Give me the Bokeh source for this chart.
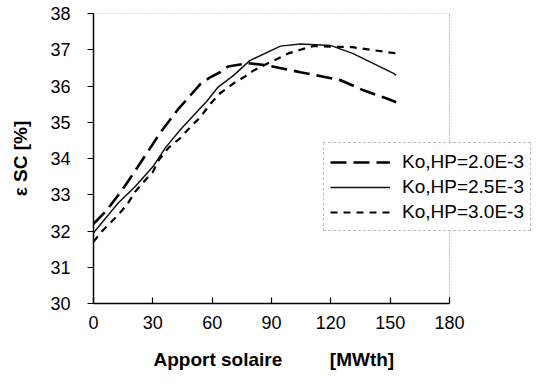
from bokeh.plotting import figure
from bokeh.models import FixedTicker, Legend, LegendItem, Title
from bokeh.embed import file_html
from bokeh.resources import INLINE

# Series: Ko,HP = 2.0E-3 (long dash)
x_20 = [0, 6, 12, 17, 23, 27, 34, 42.5, 54, 59, 64, 68, 78, 88, 104.6, 115, 125, 136.5, 149, 153]
y_20 = [32.2, 32.53, 32.95, 33.33, 33.82, 34.15, 34.73, 35.34, 36.05, 36.24, 36.38, 36.54,
        36.63, 36.57, 36.38, 36.27, 36.16, 35.88, 35.64, 35.55]

# Series: Ko,HP = 2.5E-3 (solid)
x_25 = [0, 12.6, 21, 30, 36.4, 44, 57.6, 63, 71, 79, 94.5, 104.6, 119.8, 131, 151.7, 153]
y_25 = [31.95, 32.78, 33.22, 33.77, 34.3, 34.8, 35.6, 35.97, 36.3, 36.7, 37.1, 37.16,
        37.12, 36.9, 36.35, 36.3]

# Series: Ko,HP = 3.0E-3 (short dash)
x_30 = [0, 3.5, 8.6, 12.6, 17, 21, 25, 30, 33, 38, 44, 49, 54, 59, 64, 71, 76, 81, 91,
        98.6, 104.6, 111, 131, 153]
y_30 = [31.7, 31.95, 32.23, 32.45, 32.73, 33.08, 33.33, 33.63, 33.96, 34.3, 34.57, 34.87,
        35.14, 35.5, 35.8, 36.08, 36.24, 36.43, 36.7, 36.9, 37.0, 37.1, 37.07, 36.9]

labels = ["Ko,HP=2.0E-3", "Ko,HP=2.5E-3", "Ko,HP=3.0E-3"]
x_ticks = [0, 30, 60, 90, 120, 150, 180]
y_ticks = [30, 31, 32, 33, 34, 35, 36, 37, 38]

FONT = "Liberation Sans"

x_min, x_max = x_ticks[0], x_ticks[-1]
y_min, y_max = y_ticks[0], y_ticks[-1]
# plot area is 356 px for 0..180; the canvas extends further right so the legend can overhang
frame_px = 356
extra_px = 90
x_view_max = x_max * (frame_px + extra_px) / frame_px

p = figure(width=539, height=385, output_backend="svg", toolbar_location=None,
           x_range=(x_min, x_view_max), y_range=(y_min, y_max),
           min_border_left=93, min_border_right=0, min_border_top=13, min_border_bottom=81)
p.background_fill_color = "white"
p.border_fill_color = "white"
p.xgrid.visible = False
p.ygrid.visible = False
p.outline_line_color = None

# dotted top and right borders of the plot area
p.segment(x0=[x_min, x_max], y0=[y_max, y_min], x1=[x_max, x_max], y1=[y_max, y_max],
          line_color="#808080", line_width=1, line_dash="1 2")

r1 = p.line(x_20, y_20, line_color="black", line_width=2.6, line_dash="16 7")
r2 = p.line(x_25, y_25, line_color="#111111", line_width=1.5)
r3 = p.line(x_30, y_30, line_color="black", line_width=2.2, line_dash="7 6")

p.xaxis.ticker = FixedTicker(ticks=x_ticks)
p.yaxis.ticker = FixedTicker(ticks=y_ticks)
p.xaxis.bounds = (x_min, x_max)
for ax in (p.xaxis[0], p.yaxis[0]):
    ax.axis_line_color = "black"
    ax.axis_line_width = 1.5
    ax.major_tick_line_color = "black"
    ax.major_tick_line_width = 1.2
    ax.minor_tick_line_color = None
    ax.major_label_text_font = FONT
    ax.major_label_text_font_size = "18px"
    ax.major_label_text_color = "black"
    ax.axis_label_text_font = FONT
    ax.axis_label_text_font_style = "bold"
    ax.axis_label_text_color = "black"

p.xaxis.major_tick_in = 6
p.xaxis.major_tick_out = 0
p.xaxis.major_label_standoff = 12

xlabel = Title(text="Apport solaire" + "\u00a0" * 9 + "[MWth]", align="left", offset=60,
               text_font=FONT, text_font_style="bold", text_font_size="19px",
               text_color="black", standoff=31)
p.add_layout(xlabel, "below")

p.yaxis.major_tick_in = 0
p.yaxis.major_tick_out = 6
p.yaxis.major_label_standoff = 17
p.yaxis.axis_label = "\u03b5 SC [%]"
p.yaxis.axis_label_text_font_size = "19px"
p.yaxis.axis_label_standoff = 16

legend = Legend(items=[LegendItem(label=labels[0], renderers=[r1]),
                       LegendItem(label=labels[1], renderers=[r2]),
                       LegendItem(label=labels[2], renderers=[r3])],
                location=(230, 72))
legend.label_text_font = FONT
legend.label_text_font_size = "19px"
legend.label_text_color = "black"
legend.glyph_width = 60
legend.glyph_height = 20
legend.label_height = 25
legend.label_standoff = 12
legend.spacing = 0
legend.padding = 6
legend.margin = 0
legend.border_line_color = "#808080"
legend.border_line_dash = "1 2"
legend.background_fill_color = "white"
legend.background_fill_alpha = 1
p.add_layout(legend, "center")

open("out.html", "w").write(file_html(p, INLINE))
